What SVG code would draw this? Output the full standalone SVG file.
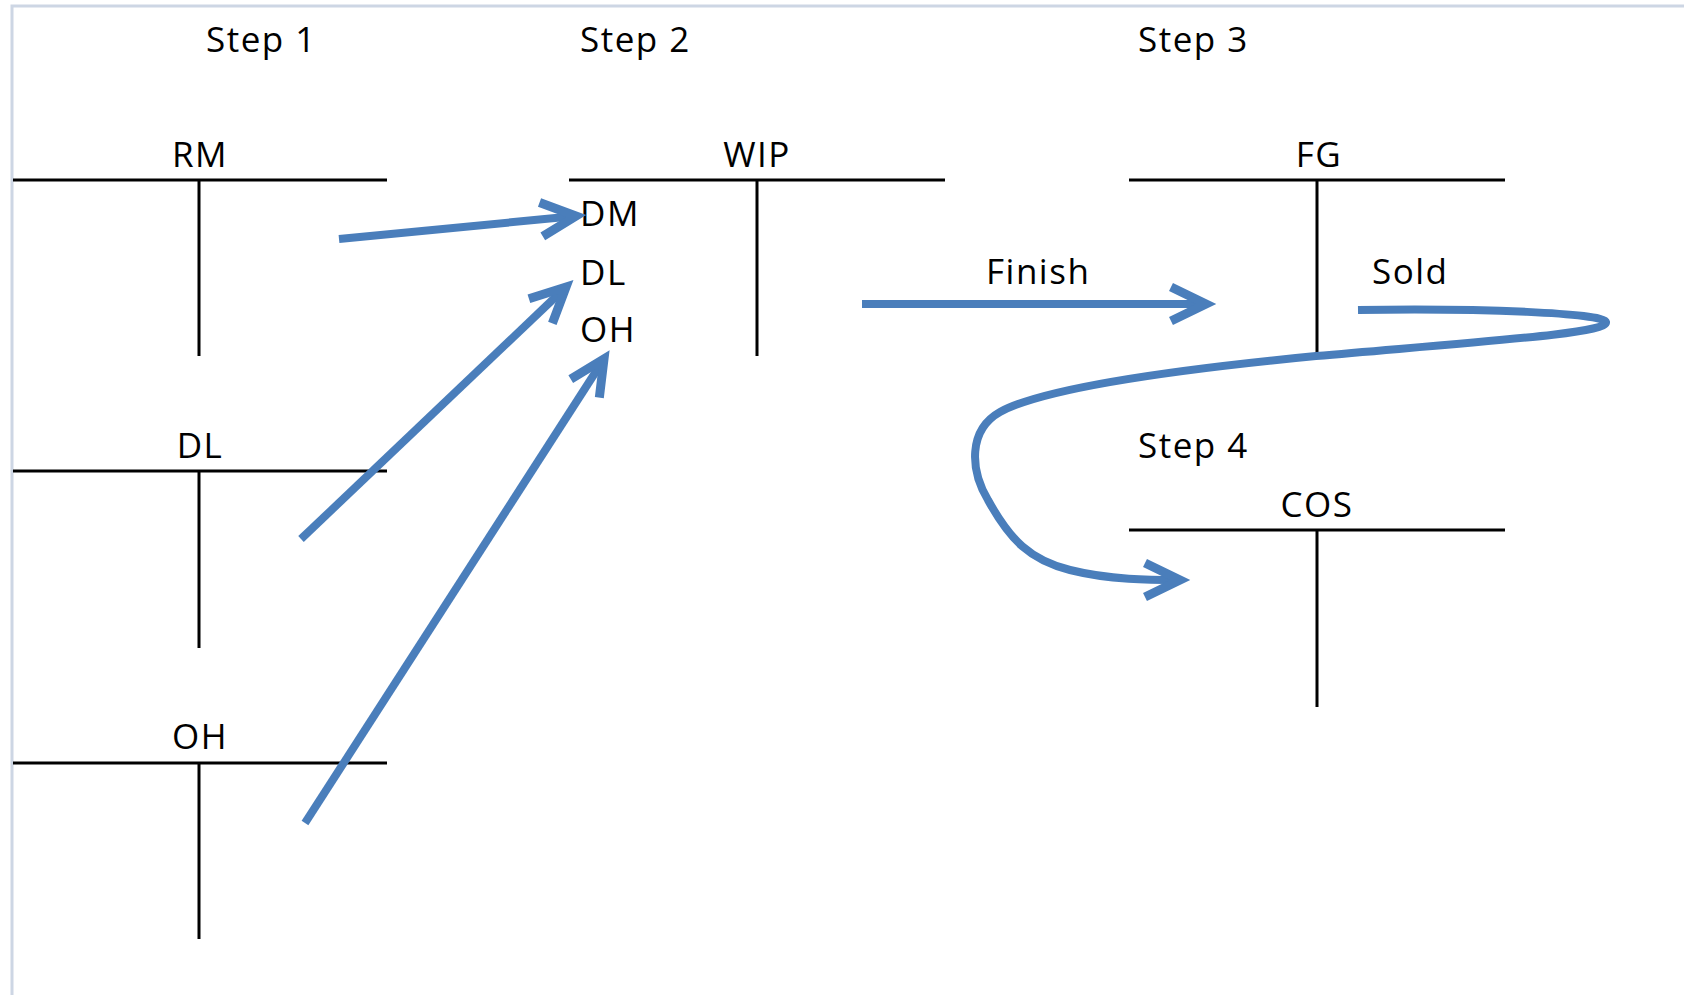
<svg xmlns="http://www.w3.org/2000/svg" width="1684" height="995" viewBox="0 0 1684 995">
<style>
.t{stroke:#000;stroke-width:3;fill:none}
.lbl{font-family:"Open Sans","Liberation Sans",sans-serif;font-size:35px;fill:#000;letter-spacing:1.5px}
.c{text-anchor:middle}
.a{stroke:#4a7ebb;stroke-width:8;fill:none;marker-end:url(#ah)}
</style>
<defs>
<marker id="ah" markerUnits="userSpaceOnUse" refX="0" refY="0" orient="auto" overflow="visible" markerWidth="1" markerHeight="1">
<path d="M -35 -17 L 0 0 L -35 17" fill="none" stroke="#4a7ebb" stroke-width="9" stroke-linejoin="miter"/>
</marker>
</defs>
<rect x="0" y="0" width="1684" height="995" fill="#fff"/>
<rect x="12" y="6" width="1700" height="1000" fill="none" stroke="#cdd6e4" stroke-width="3"/>
<g id="steps">
<text class="lbl" x="206" y="52">Step 1</text>
<text class="lbl" x="580" y="52">Step 2</text>
<text class="lbl" x="1138" y="52">Step 3</text>
<text class="lbl" x="1138" y="458">Step 4</text>
</g>
<g id="RM">
<path class="t" d="M13 180 H387 M199 180 V356"/>
<text class="lbl c" x="200" y="167">RM</text>
</g>
<g id="DL">
<path class="t" d="M13 471 H387 M199 471 V648"/>
<text class="lbl c" x="200" y="458">DL</text>
</g>
<g id="OH">
<path class="t" d="M13 763 H387 M199 763 V939"/>
<text class="lbl c" x="200" y="749">OH</text>
</g>
<g id="WIP">
<path class="t" d="M569 180 H945 M757 180 V356"/>
<text class="lbl c" x="757" y="167">WIP</text>
<text class="lbl" x="580" y="226">DM</text>
<text class="lbl" x="580" y="285">DL</text>
<text class="lbl" x="580" y="342">OH</text>
</g>
<g id="FG">
<path class="t" d="M1129 180 H1505 M1317 180 V355"/>
<text class="lbl c" x="1319" y="167">FG</text>
</g>
<g id="COS">
<path class="t" d="M1129 530 H1505 M1317 530 V707"/>
<text class="lbl c" x="1317" y="517">COS</text>
</g>
<g id="connectors">
<path class="a" d="M339 239 L576 216"/>
<path class="a" d="M301 539 L566 287"/>
<path class="a" d="M305 823 L604 359"/>
<path class="a" d="M862 304 L1206 304"/>
<path class="a" d="M1358 310 C1480 308 1604 313 1606 322 C1608 333 1500 340 1316 356 C1150 372 1040 390 1000 412 C968 430 970 470 988 500 C1010 540 1030 560 1070 570 C1110 580 1150 580 1180 580"/>
<text class="lbl" x="986" y="284">Finish</text>
<text class="lbl" x="1372" y="284">Sold</text>
</g>
</svg>
